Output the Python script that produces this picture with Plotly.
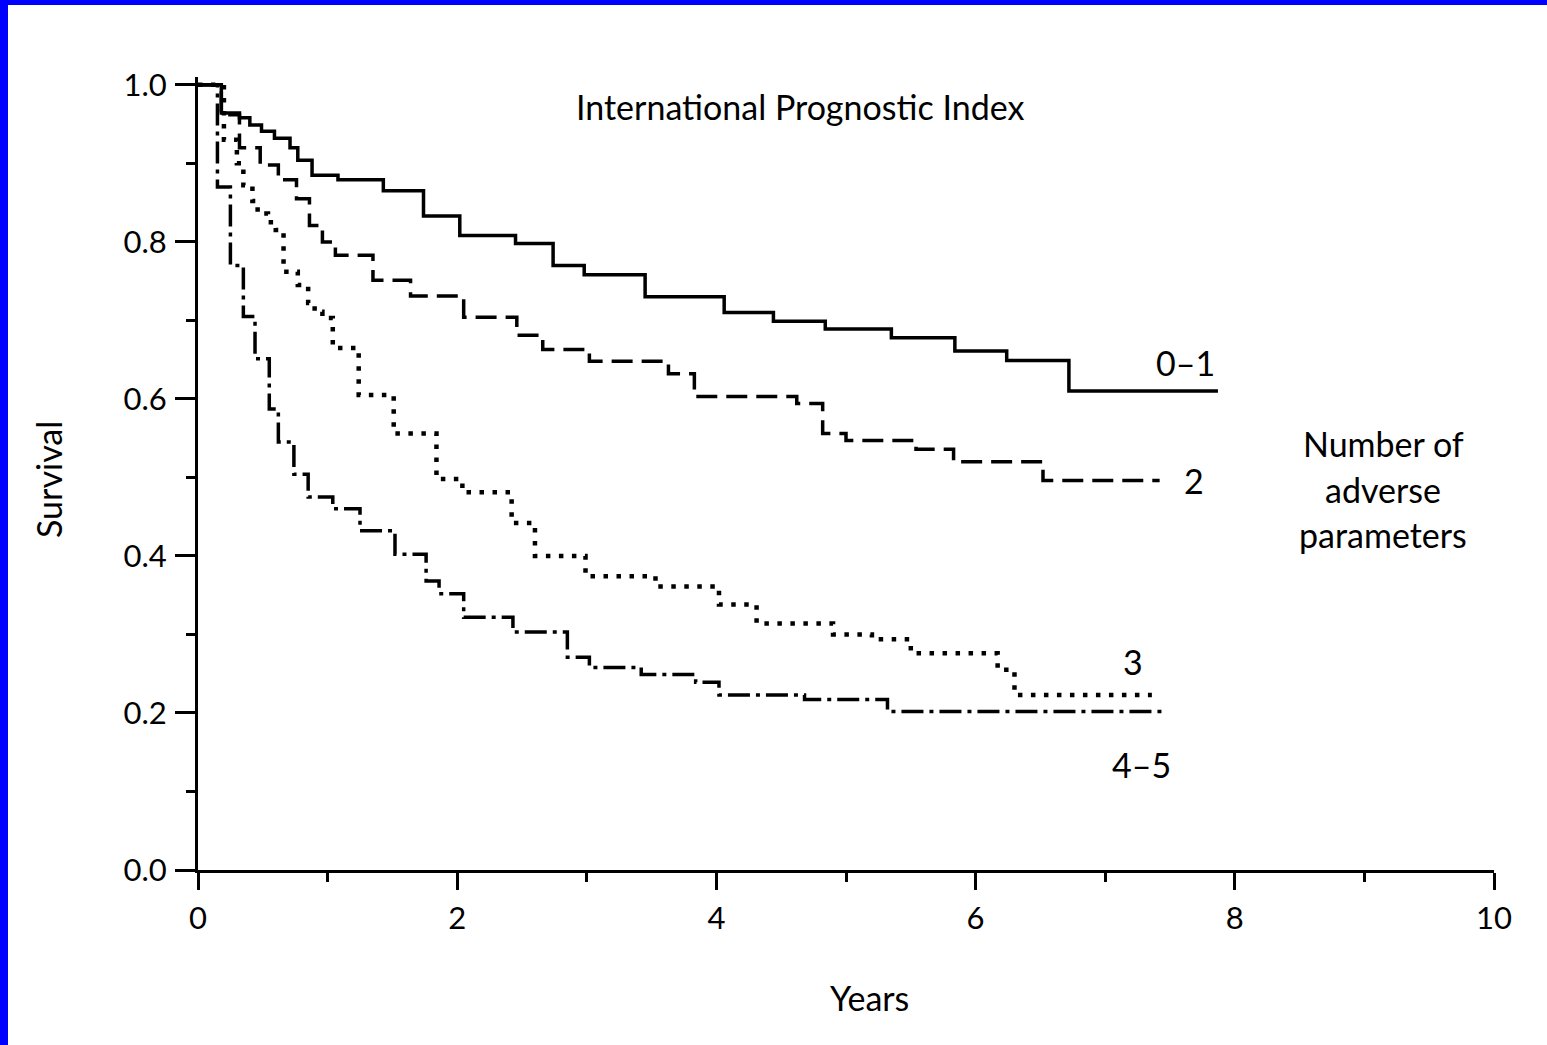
import plotly.graph_objects as go

# ---- data (years, survival) ----
t_01 = [0, 0.18, 0.32, 0.40, 0.49, 0.59, 0.71, 0.77, 0.88, 1.08, 1.43, 1.74, 2.02, 2.45, 2.74,
        2.98, 3.45, 4.06, 4.44, 4.84, 5.35, 5.84, 6.24, 6.72, 7.87]
s_01 = [1.0, 0.964, 0.958, 0.949, 0.941, 0.932, 0.920, 0.904, 0.885, 0.879, 0.865, 0.833, 0.808, 0.798, 0.770,
        0.758, 0.730, 0.710, 0.699, 0.689, 0.678, 0.661, 0.649, 0.610, 0.610]

t_2 = [0, 0.18, 0.32, 0.48, 0.62, 0.76, 0.86, 0.96, 1.06, 1.35, 1.64, 2.05, 2.46, 2.66, 3.02,
       3.63, 3.83, 4.62, 4.82, 5.00, 5.54, 5.83, 6.52, 7.42]
s_2 = [1.0, 0.962, 0.920, 0.898, 0.879, 0.855, 0.821, 0.800, 0.783, 0.751, 0.731, 0.704, 0.681, 0.663, 0.648,
       0.632, 0.603, 0.594, 0.556, 0.547, 0.536, 0.520, 0.496, 0.496]

t_3 = [0, 0.2, 0.3, 0.35, 0.42, 0.46, 0.54, 0.6, 0.66, 0.77, 0.85, 0.9, 0.96, 1.04, 1.24, 1.51,
       1.84, 2.04, 2.42, 2.6, 2.99, 3.53, 4.02, 4.31, 4.9, 5.2, 5.5, 6.17, 6.3, 7.36]
s_3 = [1.0, 0.93, 0.90, 0.872, 0.852, 0.836, 0.825, 0.815, 0.762, 0.745, 0.722, 0.711, 0.703, 0.665, 0.605, 0.556,
       0.498, 0.481, 0.442, 0.40, 0.374, 0.361, 0.338, 0.314, 0.30, 0.294, 0.276, 0.255, 0.223, 0.223]

t_45 = [0, 0.15, 0.25, 0.35, 0.44, 0.55, 0.62, 0.74, 0.85, 1.04, 1.25, 1.52, 1.76, 1.86, 2.05,
        2.43, 2.85, 3.02, 3.42, 3.84, 4.02, 4.68, 5.32, 7.46]
s_45 = [1.0, 0.87, 0.77, 0.705, 0.651, 0.587, 0.545, 0.504, 0.475, 0.46, 0.432, 0.402, 0.368, 0.352, 0.322,
        0.303, 0.271, 0.258, 0.249, 0.239, 0.223, 0.217, 0.202, 0.202]

x_ticks = [0, 2, 4, 6, 8, 10]
y_ticks = [0.0, 0.2, 0.4, 0.6, 0.8, 1.0]
y_tick_text = ["0.0", "0.2", "0.4", "0.6", "0.8", "1.0"]

FONT = "Lato, 'Open Sans', sans-serif"
W, H = 1547, 1045
ML, MR, MT, MB = 198, 53, 77, 175
PW, PH = W - ML - MR, H - MT - MB


def px_to_paper(px, py):
    return (px - ML) / PW, (H - MB - py) / PH


fig = go.Figure()
fig.add_trace(go.Scatter(x=t_01, y=s_01, mode="lines", line=dict(shape="hv", color="black", width=3.5),
                         name="0-1"))
fig.add_trace(go.Scatter(x=t_2, y=s_2, mode="lines",
                         line=dict(shape="hv", color="black", width=3.5, dash="21px,9px"), name="2"))
fig.add_trace(go.Scatter(x=t_3, y=s_3, mode="lines",
                         line=dict(shape="hv", color="black", width=4.5, dash="4.5px,8.5px"), name="3"))
fig.add_trace(go.Scatter(x=t_45, y=s_45, mode="lines",
                         line=dict(shape="hv", color="black", width=3.5, dash="22px,6px,4px,6px"), name="4-5"))

annotations = []


def add_text(text, px, py, size=34, angle=0):
    xp, yp = px_to_paper(px, py)
    annotations.append(dict(text=text, x=xp, y=yp, xref="paper", yref="paper", showarrow=False,
                            xanchor="center", yanchor="middle", textangle=angle,
                            font=dict(family=FONT, size=size, color="black")))


add_text("International Prognostic Index", 800, 106)
add_text("0–1", 1185, 362)
add_text("2", 1194, 480)
add_text("3", 1133, 661)
add_text("4–5", 1141, 764)
add_text("Number of", 1383, 443)
add_text("adverse", 1383, 489)
add_text("parameters", 1383, 534)
add_text("Years", 869, 997)
add_text("Survival", 48, 480, angle=-90)

# blue frame on top and left edges
lx0, ty0 = px_to_paper(0, 0)
lx1, _ = px_to_paper(8, 0)
_, ty1 = px_to_paper(0, 5)
rx, by = px_to_paper(W + 5, H + 5)
shapes = [
    dict(type="rect", xref="paper", yref="paper", x0=lx0 - 0.01, x1=lx1, y0=by, y1=ty0 + 0.01,
         fillcolor="#0000ff", line=dict(width=0), layer="above"),
    dict(type="rect", xref="paper", yref="paper", x0=lx0 - 0.01, x1=rx, y0=ty1, y1=ty0 + 0.01,
         fillcolor="#0000ff", line=dict(width=0), layer="above"),
]

fig.update_layout(
    width=W, height=H,
    margin=dict(l=ML, r=MR, t=MT, b=MB, pad=0),
    paper_bgcolor="white", plot_bgcolor="white",
    showlegend=False,
    annotations=annotations,
    shapes=shapes,
    font=dict(family=FONT, size=31, color="black"),
)
fig.update_xaxes(range=[0, 10], tickvals=x_ticks, ticks="outside", ticklen=17, tickwidth=3,
                 tickcolor="black", showline=True, linecolor="black", linewidth=3,
                 showgrid=False, zeroline=False, ticklabelstandoff=2,
                 tickfont=dict(family=FONT, size=31, color="black"),
                 minor=dict(tickvals=[1, 3, 5, 7, 9], ticks="outside", ticklen=9, tickwidth=3,
                            tickcolor="black", showgrid=False))
fig.update_yaxes(range=[0, 1.01], tickvals=y_ticks, ticktext=y_tick_text, ticks="outside", ticklen=20,
                 tickwidth=3, tickcolor="black", showline=True, linecolor="black", linewidth=3,
                 showgrid=False, zeroline=False, ticklabelstandoff=2,
                 tickfont=dict(family=FONT, size=31, color="black"),
                 minor=dict(tickvals=[0.1, 0.3, 0.5, 0.7, 0.9], ticks="outside", ticklen=9, tickwidth=3,
                            tickcolor="black", showgrid=False))

fig.write_html("out.html", config={"displayModeBar": False},
               post_script="document.body.style.margin='0';document.body.style.padding='0';")
